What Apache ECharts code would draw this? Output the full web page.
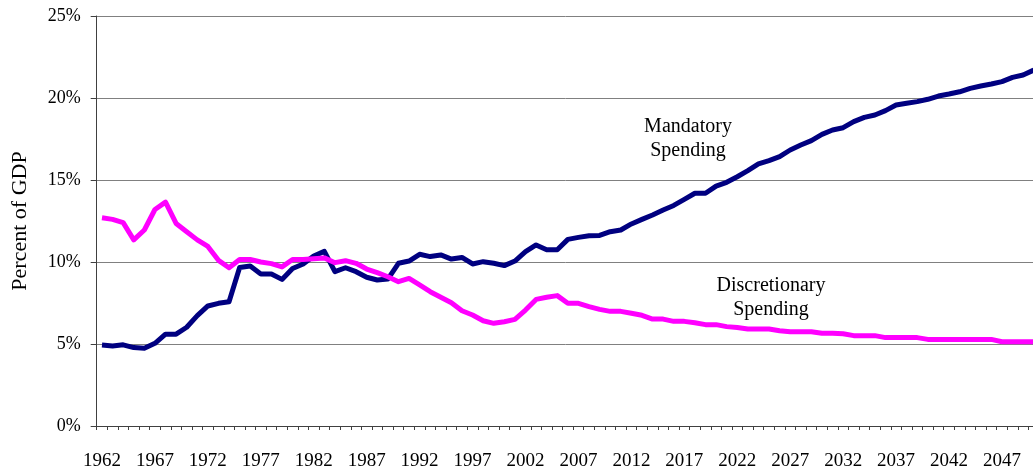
<!DOCTYPE html>
<html>
<head>
<meta charset="utf-8">
<script src="https://cdn.jsdelivr.net/npm/echarts@6/dist/echarts.min.js"></script>
<style>
html,body{margin:0;padding:0;background:#fff;}
#chart{width:1033px;height:472px;}
</style>
</head>
<body>
<div id="chart"></div>
<script>
// Years 1962 .. 2050
const years = [];
for (let y = 1962; y <= 2050; y++) years.push(String(y));

// Mandatory spending, % of GDP
const mandatory = [
  4.94, 4.88, 4.95, 4.78, 4.74, 5.04, 5.6, 5.6, 6.02, 6.73,
  7.32, 7.48, 7.58, 9.67, 9.75, 9.27, 9.27, 8.94, 9.6, 9.88,
  10.37, 10.65, 9.41, 9.65, 9.41, 9.07, 8.9, 8.96, 9.92, 10.06,
  10.47, 10.33, 10.43, 10.18, 10.28, 9.88, 10.02, 9.92, 9.78, 10.06,
  10.63, 11.04, 10.75, 10.75, 11.38, 11.5, 11.6, 11.62, 11.85, 11.95,
  12.32, 12.6, 12.87, 13.17, 13.45, 13.82, 14.19, 14.19, 14.63, 14.86,
  15.2, 15.57, 15.98, 16.18, 16.42, 16.83, 17.13, 17.4, 17.78, 18.05,
  18.19, 18.56, 18.82, 18.96, 19.23, 19.57, 19.68, 19.78, 19.92, 20.12,
  20.24, 20.38, 20.59, 20.73, 20.85, 21.0, 21.26, 21.4, 21.7
];

// Discretionary spending, % of GDP
const discretionary = [
  12.7, 12.6, 12.4, 11.35, 11.95, 13.2, 13.65, 12.35, 11.85, 11.35,
  10.95, 10.1, 9.65, 10.15, 10.15, 10.0, 9.9, 9.7, 10.15, 10.15,
  10.2, 10.25, 9.96, 10.08, 9.92, 9.57, 9.35, 9.1, 8.8, 9.0,
  8.6, 8.19, 7.85, 7.52, 7.03, 6.77, 6.42, 6.26, 6.36, 6.5,
  7.07, 7.72, 7.85, 7.95, 7.48, 7.48, 7.28, 7.11, 6.99, 6.99,
  6.87, 6.75, 6.52, 6.52, 6.38, 6.38, 6.3, 6.18, 6.18, 6.06,
  6.0, 5.91, 5.91, 5.91, 5.81, 5.75, 5.75, 5.75, 5.65, 5.65,
  5.63, 5.51, 5.51, 5.51, 5.39, 5.39, 5.39, 5.39, 5.28, 5.28,
  5.28, 5.28, 5.28, 5.28, 5.28, 5.14, 5.14, 5.14, 5.14
];

const yTicks = [0, 5, 10, 15, 20, 25];

const FONT = '"Liberation Serif", "Times New Roman", serif';
const chart = echarts.init(document.getElementById('chart'));
chart.setOption({
  animation: false,
  backgroundColor: '#ffffff',
  grid: { left: 96.7, right: -6, top: 16, bottom: 46, containLabel: false, outerBoundsMode: 'none' },
  xAxis: {
    type: 'category',
    data: years,
    boundaryGap: true,
    axisLine: { show: true, lineStyle: { color: '#404040', width: 1 } },
    axisTick: { show: true, interval: 0, length: 4, inside: false, lineStyle: { color: '#404040' } },
    axisLabel: {
      interval: 4,
      color: '#000',
      fontFamily: FONT,
      fontSize: 19,
      margin: 26
    },
    splitLine: { show: false }
  },
  yAxis: {
    type: 'value',
    min: yTicks[0],
    max: yTicks[yTicks.length - 1],
    interval: 5,
    name: 'Percent of GDP',
    nameLocation: 'middle',
    nameRotate: 90,
    nameGap: 65,
    nameTextStyle: { color: '#000', fontFamily: FONT, fontSize: 22 },
    axisLine: { show: true, lineStyle: { color: '#404040', width: 1 } },
    axisTick: { show: true, length: 6, lineStyle: { color: '#404040' } },
    axisLabel: {
      formatter: '{value}%',
      color: '#000',
      fontFamily: FONT,
      fontSize: 18,
      margin: 16
    },
    splitLine: { show: true, lineStyle: { color: '#808080', width: 1 } }
  },
  series: [
    {
      name: 'Mandatory Spending',
      type: 'line',
      data: mandatory,
      showSymbol: false,
      symbol: 'none',
      lineStyle: { color: '#000080', width: 5, join: 'round' },
      z: 3
    },
    {
      name: 'Discretionary Spending',
      type: 'line',
      data: discretionary,
      showSymbol: false,
      symbol: 'none',
      lineStyle: { color: '#FF00FF', width: 5, join: 'round' },
      z: 4
    }
  ],
  graphic: [
    {
      type: 'text',
      x: 688, y: 139,
      style: {
        text: 'Mandatory\nSpending', fill: '#000', font: '20px ' + FONT,
        align: 'center', verticalAlign: 'middle', lineHeight: 24
      }
    },
    {
      type: 'text',
      x: 771, y: 298,
      style: {
        text: 'Discretionary\nSpending', fill: '#000', font: '20px ' + FONT,
        align: 'center', verticalAlign: 'middle', lineHeight: 24
      }
    }
  ]
});
</script>
</body>
</html>
